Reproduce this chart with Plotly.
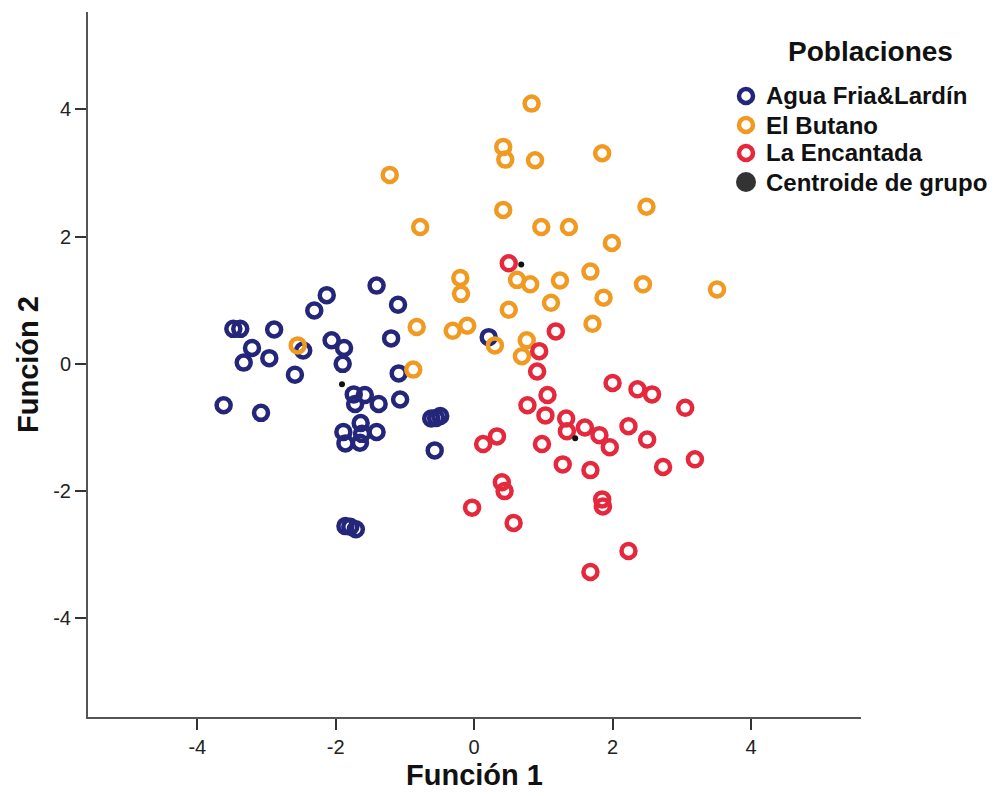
import plotly.graph_objects as go

# ---------------- data ----------------
group_names = ["Agua Fria&Lardín", "El Butano", "La Encantada"]
centroid_name = "Centroide de grupo"
legend_title = "Poblaciones"
x_title = "Función 1"
y_title = "Función 2"

agua_x = [-1.41, -2.13, -2.31, -1.10, -3.48, -3.38, -2.89, -3.21, -3.33, -2.96,
          -2.47, -2.59, -2.06, -1.88, -1.90, -1.20, -1.09, -3.62, -3.08, -1.74,
          -1.58, -1.72, -1.38, -1.07, -1.64, -1.89, -1.41, -1.62, -1.86, -1.65,
          -0.62, -0.55, -0.49, -0.57, -1.86, -1.79, -1.71, 0.21]
agua_y = [1.23, 1.08, 0.84, 0.93, 0.55, 0.55, 0.54, 0.25, 0.02, 0.09,
          0.21, -0.17, 0.37, 0.25, 0.00, 0.40, -0.15, -0.65, -0.77, -0.48,
          -0.49, -0.63, -0.63, -0.56, -0.93, -1.07, -1.07, -1.10, -1.25, -1.24,
          -0.86, -0.85, -0.82, -1.36, -2.55, -2.56, -2.60, 0.42]

butano_x = [0.83, 0.42, 0.45, 0.88, -1.22, 0.42, -0.78, 0.97, 1.37, -0.20,
            -0.19, 0.62, 0.81, 1.24, 0.50, 1.11, -0.83, -0.31, -0.10, 0.30,
            0.76, 0.69, -0.88, -2.55, 1.85, 2.49, 1.99, 1.68, 1.87, 2.44,
            3.51, 1.71]
butano_y = [4.09, 3.41, 3.21, 3.20, 2.97, 2.42, 2.15, 2.15, 2.15, 1.35,
            1.10, 1.32, 1.25, 1.31, 0.85, 0.96, 0.58, 0.52, 0.60, 0.29,
            0.37, 0.12, -0.09, 0.29, 3.31, 2.47, 1.90, 1.45, 1.04, 1.25,
            1.17, 0.63]

encantada_x = [0.50, 1.18, 0.94, 0.91, 2.00, 1.06, 0.77, 1.03, 1.33, 1.34,
               1.60, 1.81, 1.96, 0.13, 0.33, 0.98, 1.28, 1.68, 0.40, 0.44,
               -0.03, 0.57, 1.85, 1.86, 1.68, 2.36, 2.57, 3.05, 2.23, 2.50,
               2.73, 3.19, 2.23]
encantada_y = [1.58, 0.51, 0.20, -0.12, -0.30, -0.49, -0.65, -0.81, -0.86, -1.06,
               -1.00, -1.12, -1.31, -1.26, -1.14, -1.26, -1.58, -1.67, -1.86, -2.00,
               -2.26, -2.50, -2.13, -2.24, -3.27, -0.40, -0.48, -0.69, -0.98, -1.19,
               -1.62, -1.50, -2.94]

centroid_x = [-1.91, 0.68, 1.46]
centroid_y = [-0.32, 1.56, -1.17]

tick_vals = [-4, -2, 0, 2, 4]

# ---------------- style ----------------
colors = ["#24267a", "#f09a22", "#e5283c"]
centroid_color = "#111111"
legend_centroid_color = "#333333"
FONT = "Liberation Sans, Arial, sans-serif"

W, H = 1006, 796
ML, MR, MT, MB = 88, 145, 12, 79
PW, PH = W - ML - MR, H - MT - MB


def px(xp):
    return (xp - ML) / PW


def py(yp):
    return (H - MB - yp) / PH


fig = go.Figure()
series = [(agua_x, agua_y), (butano_x, butano_y), (encantada_x, encantada_y)]
for name, (xs, ys), c in zip(group_names, series, colors):
    fig.add_trace(go.Scatter(
        x=xs, y=ys, mode="markers", name=name, showlegend=False,
        marker=dict(symbol="circle-open", size=14, color=c,
                    line=dict(width=4.5, color=c)),
    ))
fig.add_trace(go.Scatter(
    x=centroid_x, y=centroid_y, mode="markers", name=centroid_name,
    showlegend=False, marker=dict(symbol="circle", size=6, color=centroid_color),
))

# ---------------- manual legend ----------------
annotations = [dict(
    x=px(870), y=py(52), xref="paper", yref="paper", text=legend_title,
    showarrow=False, xanchor="center", yanchor="middle",
    font=dict(family=FONT, size=28, color="#111111", weight="bold"),
)]
shapes = []
row_y = [96, 125, 153, 182]
labels = group_names + [centroid_name]
for i, (lab, ry) in enumerate(zip(labels, row_y)):
    annotations.append(dict(
        x=px(764), y=py(ry), xref="paper", yref="paper", text=lab,
        showarrow=False, xanchor="left", yanchor="middle",
        font=dict(family=FONT, size=24, color="#111111", weight="bold"),
    ))
    if i < 3:
        shapes.append(dict(
            type="circle", xref="paper", yref="paper",
            xsizemode="pixel", ysizemode="pixel",
            xanchor=px(746), yanchor=py(ry),
            x0=-7, x1=7, y0=-7, y1=7,
            line=dict(color=colors[i], width=4.5), fillcolor="rgba(0,0,0,0)",
        ))
    else:
        shapes.append(dict(
            type="circle", xref="paper", yref="paper",
            xsizemode="pixel", ysizemode="pixel",
            xanchor=px(746), yanchor=py(ry),
            x0=-10, x1=10, y0=-10, y1=10,
            line=dict(color=legend_centroid_color, width=0),
            fillcolor=legend_centroid_color,
        ))

axis_common = dict(
    showgrid=False, zeroline=False, showline=True, linecolor="#555555",
    linewidth=2, ticks="outside", ticklen=11, tickwidth=2, tickcolor="#333333",
    tickvals=tick_vals, ticktext=[str(v) for v in tick_vals],
    tickfont=dict(family=FONT, size=20, color="#222222"),
    mirror=False,
)

fig.update_layout(
    width=W, height=H,
    margin=dict(l=ML, r=MR, t=MT, b=MB, autoexpand=False),
    paper_bgcolor="white", plot_bgcolor="white",
    xaxis=dict(range=[-5.58, 5.59], **axis_common,
               title=dict(text=x_title, standoff=8,
                          font=dict(family=FONT, size=29, color="#111111", weight="bold"))),
    yaxis=dict(range=[-5.55, 5.53], **axis_common,
               title=dict(text=y_title, standoff=6,
                          font=dict(family=FONT, size=29, color="#111111", weight="bold"))),
    annotations=annotations,
    shapes=shapes,
    showlegend=False,
)

fig.write_html("out.html")
